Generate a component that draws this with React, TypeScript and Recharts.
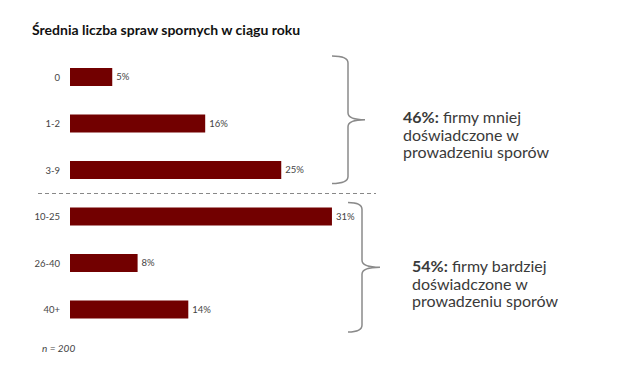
import { BarChart, Bar, XAxis, YAxis, LabelList } from 'recharts';

const categories = ['0', '1-2', '3-9', '10-25', '26-40', '40+'];
const shares = [5, 16, 25, 31, 8, 14];

const title = 'Średnia liczba spraw spornych w ciągu roku';
const groupLess = { share: '46%:', lines: ['firmy mniej', 'doświadczone w', 'prowadzeniu sporów'] };
const groupMore = { share: '54%:', lines: ['firmy bardziej', 'doświadczone w', 'prowadzeniu sporów'] };
const sampleNote = 'n = 200';

const data = categories.map((c, i) => ({ cat: c, value: shares[i] }));

const W = 640;
const H = 373;
const margin = { top: 54, right: 232, bottom: 40, left: 0 };
const yAxisWidth = 70;
const band = (H - margin.top - margin.bottom) / categories.length;
const font = 'Lato, "Open Sans", sans-serif';

// curly brace opening to the left, tip pointing right
function bracePath(x0: number, xv: number, xt: number, y1: number, y2: number) {
  const r = 7;
  const mid = (y1 + y2) / 2;
  return [
    `M${x0},${y1}`,
    `Q${xv},${y1} ${xv},${y1 + r}`,
    `L${xv},${mid - r}`,
    `Q${xv},${mid} ${xt},${mid}`,
    `Q${xv},${mid} ${xv},${mid + r}`,
    `L${xv},${y2 - r}`,
    `Q${xv},${y2} ${x0},${y2}`,
  ].join(' ');
}

function GroupText({ x, y, group }: { x: number; y: number; group: { share: string; lines: string[] } }) {
  return (
    <text x={x} y={y} fontSize={16} fill="#3a3a3a" fontFamily={font}>
      <tspan fontWeight="bold">{group.share}</tspan>
      <tspan> {group.lines[0]}</tspan>
      {group.lines.slice(1).map((l, i) => (
        <tspan key={i} x={x} dy={17.5}>{l}</tspan>
      ))}
    </text>
  );
}

export default function App() {
  const splitY = margin.top + 3 * band;
  const upTop = margin.top + 2;
  const upBottom = splitY - 10;
  const lowTop = splitY + 9;
  const lowBottom = margin.top + 6 * band - 1;

  return (
    <div style={{ position: 'absolute', left: 0, top: 0, width: W, height: H, background: '#fff' }}>
      <BarChart width={W} height={H} data={data} layout="vertical" margin={margin}>
        <XAxis type="number" domain={[0, 40]} hide />
        <YAxis
          type="category"
          dataKey="cat"
          width={yAxisWidth}
          axisLine={false}
          tickLine={false}
          tickMargin={4}
          tick={{ fontSize: 9.5, fill: '#444', fontFamily: font }}
        />
        <Bar dataKey="value" fill="#720000" barSize={18} isAnimationActive={false}>
          <LabelList
            dataKey="value"
            position="right"
            offset={4}
            formatter={(v: any) => `${v}%`}
            style={{ fontSize: 9.5, fill: '#444', fontFamily: font }}
          />
        </Bar>
      </BarChart>
      <svg width={W} height={H} style={{ position: 'absolute', left: 0, top: 0, pointerEvents: 'none' }}>
        <text x={32} y={35} fontSize={14} fontWeight="bold" fill="#111" fontFamily={font}>{title}</text>
        <line x1={38} x2={376} y1={splitY} y2={splitY} stroke="#888" strokeWidth={1} strokeDasharray="4 3" />
        <path d={bracePath(332, 348, 365, upTop, upBottom)} fill="none" stroke="#8a8a8a" strokeWidth={1.5} />
        <path d={bracePath(348, 362, 380, lowTop, lowBottom)} fill="none" stroke="#8a8a8a" strokeWidth={1.5} />
        <GroupText x={403} y={123} group={groupLess} />
        <GroupText x={412} y={272} group={groupMore} />
        <text x={42} y={352} fontSize={10} fontStyle="italic" fill="#444" fontFamily={font}>{sampleNote}</text>
      </svg>
    </div>
  );
}
